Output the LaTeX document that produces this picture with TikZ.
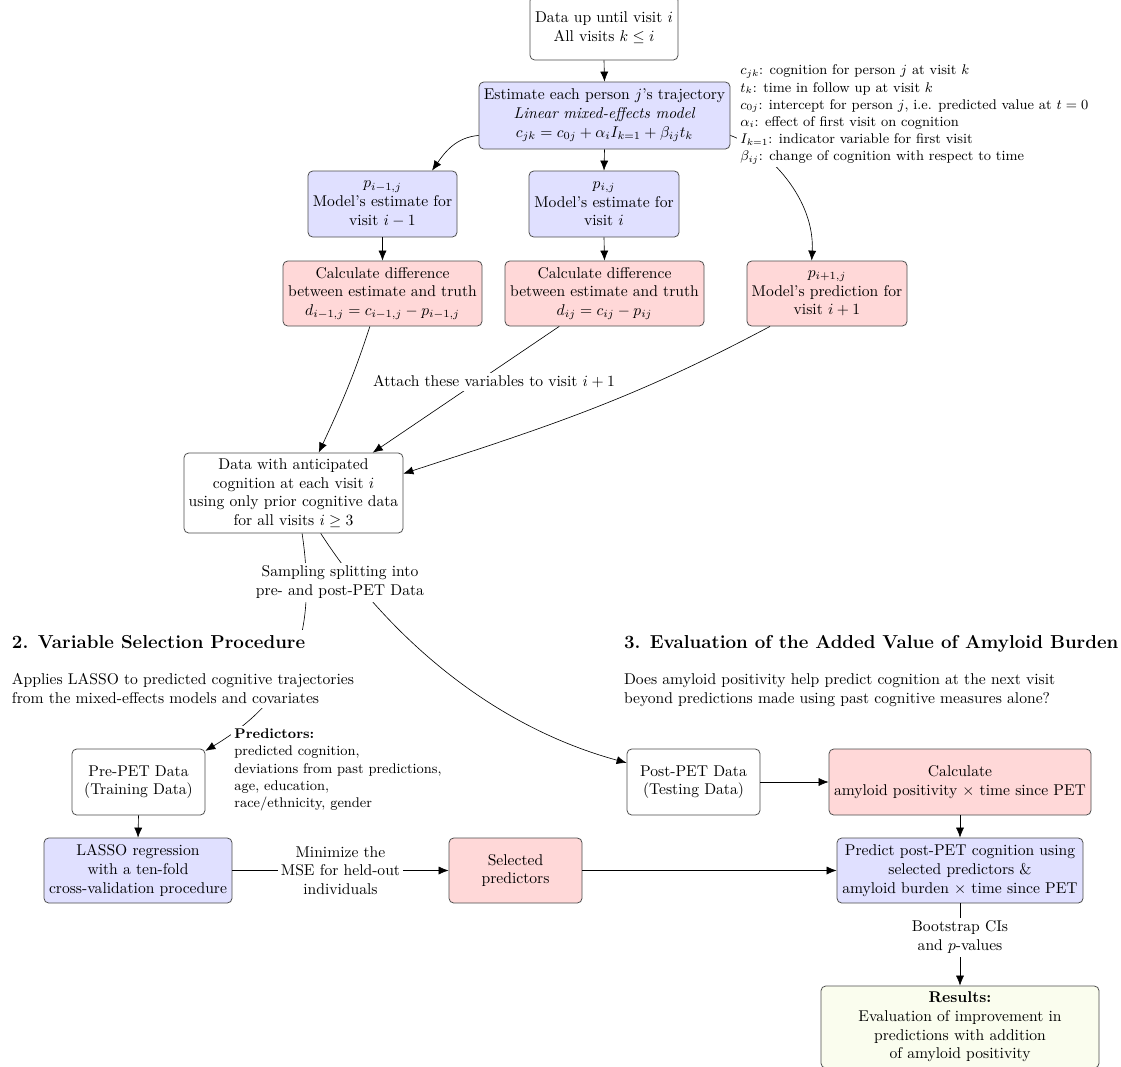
\documentclass[tikz,border=0pt]{standalone}
\usetikzlibrary{arrows.meta}
\definecolor{bluefill}{RGB}{224,224,255}
\definecolor{redfill}{RGB}{255,216,216}
\definecolor{resfill}{RGB}{250,253,238}
\begin{document}
\begin{tikzpicture}[x=0.641pt,y=-0.641pt,
  box/.style={draw=black!70, rounded corners=3pt, align=center, inner sep=2pt, line width=0.5pt},
  wbox/.style={box, fill=white},
  bbox/.style={box, fill=bluefill},
  rbox/.style={box, fill=redfill},
  ybox/.style={box, fill=resfill},
  sz/.style 2 args={minimum width=#1*0.641pt, minimum height=#2*0.641pt},
  arr/.style={-{Latex[length=6.4pt,width=5.2pt]}, line width=0.4pt},
  lbl/.style={fill=white, align=center, inner sep=2pt},
  sect/.style={fill=white, align=left, inner sep=3pt},
  legend/.style={fill=white, align=left, inner sep=2pt, font=\small}
]
\useasboundingbox (0,0) rectangle (1121,1066);

% ---- boxes ----
\node[wbox, sz={148}{64}] (top) at (604,28) {Data up until visit $i$\\All visits $k\le i$};
\node[bbox, sz={251}{67}] (est) at (604.5,115.5) {Estimate each person $j$'s trajectory\\\textit{Linear mixed-effects model}\\$c_{jk} = c_{0j} + \alpha_i I_{k=1} + \beta_{ij} t_k$};
\node[bbox, sz={149}{66}] (pa) at (382.5,204) {$p_{i-1,j}$\\Model's estimate for\\visit $i-1$};
\node[bbox, sz={150}{66}] (pb) at (604,204) {$p_{i,j}$\\Model's estimate for\\visit $i$};
\node[rbox, sz={199}{65}] (ca) at (382.5,293.5) {Calculate difference\\between estimate and truth\\$d_{i-1,j} = c_{i-1,j} - p_{i-1,j}$};
\node[rbox, sz={199}{65}] (cb) at (604.5,293.5) {Calculate difference\\between estimate and truth\\$d_{ij} = c_{ij} - p_{ij}$};
\node[rbox, sz={160}{65}] (pn) at (827,293.5) {$p_{i+1,j}$\\Model's prediction for\\visit $i+1$};
\node[wbox, sz={219}{80}] (data) at (293.5,493) {Data with anticipated\\cognition at each visit $i$\\using only prior cognitive data\\for all visits $i\ge 3$};
\node[wbox, sz={133}{66}] (prepet) at (138.5,782) {Pre-PET Data\\(Training Data)};
\node[wbox, sz={133}{66}] (postpet) at (693.5,782) {Post-PET Data\\(Testing Data)};
\node[rbox, sz={262}{66}] (calc) at (960,782) {Calculate\\amyloid positivity $\times$ time since PET};
\node[bbox, sz={188}{65}] (lasso) at (138,870.5) {LASSO regression\\with a ten-fold\\cross-validation procedure};
\node[rbox, sz={133}{65}] (sel) at (515.5,870.5) {Selected\\predictors};
\node[bbox, sz={246}{65}] (pred) at (960,870.5) {Predict post-PET cognition using\\selected predictors \&\\amyloid burden $\times$ time since PET};
\node[ybox, sz={278}{82}] (res) at (960,1027) {\textbf{Results:}\\Evaluation of improvement in\\predictions with addition\\of amyloid positivity};

% ---- connectors ----
\draw[arr] (top.south) -- (est.north);
\draw[arr] (est.south) -- (pb.north);
\draw[arr] (est.189) to[out=185,in=55] (pa.34);
\draw[arr] (est.-9) .. controls (770,150) and (815,200) .. (pn.115);
\draw[arr] (pa.south) -- (ca.north);
\draw[arr] (pb.south) -- (cb.north);
\draw[arr] (ca.-111) to[out=-108,in=65] (data.58.5);
\draw[arr] (cb.-144) -- (data.27);
\draw[arr] (pn.-150) to[out=-152,in=18] (data.10);
\draw[arr] (data.-78) .. controls (318,640) and (290,700) .. (prepet.25);
\draw[arr] (data.-56.5) .. controls (370,610) and (470,720) .. (postpet.164);
\draw[arr] (prepet.south) -- (lasso.north);
\draw[arr] (lasso.east) -- node[lbl] (mse) {Minimize the\\MSE for held-out\\individuals} (sel.west);
\draw[arr] (sel.east) -- (pred.west);
\draw[arr] (postpet.east) -- (calc.west);
\draw[arr] (calc.south) -- (pred.north);
\draw[arr] (pred.south) -- node[lbl, pos=0.41] (boot) {Bootstrap CIs\\and $p$-values} (res.north);

% ---- covering labels and texts ----
\node[legend, anchor=west] (leg) at (737,114.5) {$c_{jk}$: cognition for person $j$ at visit $k$\\
$t_k$: time in follow up at visit $k$\\
$c_{0j}$: intercept for person $j$, i.e. predicted value at $t=0$\\
$\alpha_i$: effect of first visit on cognition\\
$I_{k=1}$: indicator variable for first visit\\
$\beta_{ij}$: change of cognition with respect to time};
\node[lbl] (attach) at (494,382) {Attach these variables to visit $i+1$};
\node[lbl] (split) at (340,582) {Sampling splitting into\\pre- and post-PET Data};
\node[sect, anchor=north west] (sec2) at (7,630) {{\large\bfseries 2.\enspace Variable Selection Procedure}\\[11.6pt]Applies LASSO to predicted cognitive trajectories\\from the mixed-effects models and covariates};
\node[sect, anchor=north west] (sec3) at (619,630) {{\large\bfseries 3.\enspace Evaluation of the Added Value of Amyloid Burden}\\[11.6pt]Does amyloid positivity help predict cognition at the next visit\\beyond predictions made using past cognitive measures alone?};
\node[legend, anchor=west] (predictors) at (231,770) {\textbf{Predictors:}\\predicted cognition,\\deviations from past predictions,\\age, education,\\race/ethnicity, gender};
\end{tikzpicture}
\end{document}
